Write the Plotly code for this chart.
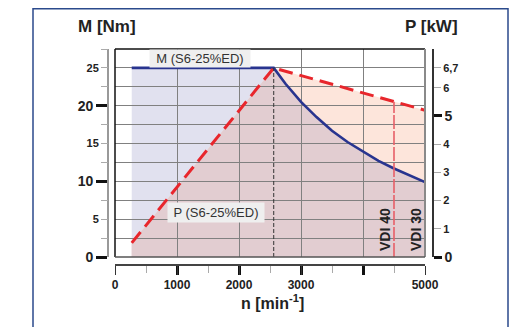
import plotly.graph_objects as go

# ---- data ----
n_M = [270, 2560, 2750, 3000, 3250, 3500, 3750, 4000, 4250, 4500, 4750, 5000]
M_Nm = [25.0, 25.0, 22.9, 20.5, 18.5, 16.7, 15.2, 13.9, 12.7, 11.7, 10.8, 9.9]
n_P = [270, 2560, 5000]
P_kW = [0.5, 6.7, 5.2]
n_corner = 2560
n_vdi40 = 4500
P_vdi40 = 5.5

x_major = [1000, 2000, 3000, 4000]
x_labels = [0, 1000, 2000, 3000, 5000]
yL_big = [0, 10, 20]
yL_small = [5, 15, 25]
yR_big = [0, 5]
yR_small = [1, 2, 3, 4, 6, 6.7]
yR_small_text = ['1', '2', '3', '4', '6', '6,7']

K = 25 / 6.7          # 25 Nm on the left axis aligns with 6.7 kW on the right
Y_MAX = 27.5
X_MAX = 5000

P_on_M = [p * K for p in P_kW]

# ---- pixel helpers for layout (page has an 8px body margin) ----
W, H = 530, 327
OFF = 8
ML, MR, MT, MB = 50, 60, 20, 40
PW = W - ML - MR
PH = H - MT - MB


def px(x):
    return (x - OFF - ML) / PW


def py(y):
    return (H - MB - (y - OFF)) / PH


FONT = 'Liberation Sans, Arial, sans-serif'
LAV = '#e1e1ef'
PEACH = '#fde5db'
MAUVE = '#e2cdd1'


def path_from(xs, ys):
    s = 'M %g,0 ' % xs[0]
    for x, y in zip(xs, ys):
        s += 'L %g,%g ' % (x, y)
    s += 'L %g,0 Z' % xs[-1]
    return s


# overlap polygon: P (below M) before the corner speed, M (below P) after it
i_c = n_M.index(n_corner)
j_c = n_P.index(n_corner)
min_x = n_P[:j_c] + n_M[i_c:]
min_y = P_on_M[:j_c] + M_Nm[i_c:]

fig = go.Figure()

fig.add_trace(go.Scatter(x=n_M, y=M_Nm, mode='lines',
                         line=dict(color='#28348f', width=2.6),
                         hoverinfo='skip', showlegend=False))
fig.add_trace(go.Scatter(x=n_P, y=P_on_M, mode='lines',
                         line=dict(color='#e8262c', width=3, dash='14px,7px'),
                         hoverinfo='skip', showlegend=False))
fig.add_trace(go.Scatter(x=[n_vdi40, n_vdi40], y=[0, P_vdi40 * K], mode='lines',
                         line=dict(color='#e65f68', width=1.6, dash='14px,2px'),
                         hoverinfo='skip', showlegend=False))
fig.add_trace(go.Scatter(x=[n_corner, n_corner], y=[0, 25], mode='lines',
                         line=dict(color='#333333', width=1, dash='4px,2px'),
                         hoverinfo='skip', showlegend=False))

# dummy traces so the extra axes render
for xa, ya in [('x2', 'y'), ('x3', 'y'), ('x', 'y2'), ('x', 'y3'), ('x', 'y4'), ('x', 'y5')]:
    fig.add_trace(go.Scatter(x=[None], y=[None], xaxis=xa, yaxis=ya,
                             showlegend=False, hoverinfo='skip'))

shapes = [
    dict(type='path', xref='x', yref='y', path=path_from(n_M, M_Nm),
         fillcolor=LAV, line=dict(width=0), layer='below'),
    dict(type='path', xref='x', yref='y', path=path_from(n_P, P_on_M),
         fillcolor=PEACH, line=dict(width=0), layer='below'),
    dict(type='path', xref='x', yref='y', path=path_from(min_x, min_y),
         fillcolor=MAUVE, line=dict(width=0), layer='below'),
    # plot borders
    dict(type='line', xref='x domain', yref='y domain', x0=0, x1=1, y0=1, y1=1,
         line=dict(color='#111111', width=1.5)),
    dict(type='line', xref='x domain', yref='y domain', x0=0, x1=0, y0=0, y1=1,
         line=dict(color='#111111', width=1.5)),
    dict(type='line', xref='x domain', yref='y domain', x0=1, x1=1, y0=0, y1=1,
         line=dict(color='#8a8a8a', width=2)),
    dict(type='line', xref='x domain', yref='y domain', x0=0, x1=1, y0=0, y1=0,
         line=dict(color='#555555', width=1.5)),
    # outer frame
    dict(type='rect', xref='paper', yref='paper', x0=px(33), x1=px(508),
         y0=py(345), y1=py(8.8), line=dict(color='#2b4a8c', width=1.5)),
]

tick_big = dict(family=FONT, size=14, color='#222222', weight='bold')
tick_small = dict(family=FONT, size=11, color='#222222', weight='bold')
tick_x = dict(family=FONT, size=12, color='#222222', weight='bold')

fig.update_layout(
    width=W, height=H,
    margin=dict(l=ML, r=MR, t=MT, b=MB, autoexpand=False),
    paper_bgcolor='white', plot_bgcolor='white',
    shapes=shapes,
    showlegend=False,
    xaxis=dict(domain=[px(115), px(425)], range=[0, X_MAX], anchor='y',
               tickvals=x_major, showticklabels=False, ticks='',
               showgrid=True, gridcolor='#808080', gridwidth=1,
               zeroline=False, showline=False, automargin=False),
    yaxis=dict(domain=[py(257), py(49)], range=[0, Y_MAX], anchor='x',
               tickvals=[2.5 * i for i in range(1, 11)], showticklabels=False,
               ticks='', showgrid=True, gridcolor='#808080', gridwidth=1,
               zeroline=False, showline=False, automargin=False),
    xaxis2=dict(overlaying='x', anchor='free', position=py(265),
                range=[0, X_MAX], tickvals=x_major, showticklabels=False,
                ticks='outside', ticklen=9, tickwidth=2.5, tickcolor='#111111',
                showline=True, linecolor='#444444', linewidth=1.5,
                showgrid=False, zeroline=False, automargin=False),
    xaxis3=dict(overlaying='x', anchor='free', position=py(265),
                range=[0, X_MAX], tickvals=x_labels,
                ticks='outside', ticklen=9, tickwidth=1, tickcolor='#333333',
                minor=dict(tick0=500, dtick=1000, ticks='outside', ticklen=7,
                           tickwidth=1, tickcolor='#aaaaaa'),
                showline=False, showgrid=False, zeroline=False,
                tickfont=tick_x, automargin=False),
    yaxis2=dict(overlaying='y', anchor='free', position=px(108), side='left',
                range=[0, Y_MAX], tickvals=yL_big, ticks='outside', ticklen=11,
                tickwidth=2.5, tickcolor='#111111', showline=True,
                linecolor='#999999', linewidth=1.8, showgrid=False,
                zeroline=False, tickfont=tick_big, automargin=False),
    yaxis3=dict(overlaying='y', anchor='free', position=px(108), side='left',
                range=[0, Y_MAX], tickvals=yL_small,
                ticks='outside', ticklen=7, tickwidth=1, tickcolor='#aaaaaa',
                minor=dict(tick0=2.5, dtick=5, ticks='outside', ticklen=7,
                           tickwidth=1, tickcolor='#aaaaaa'),
                showline=False, showgrid=False, zeroline=False,
                tickfont=tick_small, automargin=False),
    yaxis4=dict(overlaying='y', anchor='free', position=px(433), side='right',
                range=[0, Y_MAX / K], tickvals=yR_big, ticks='outside',
                ticklen=8, tickwidth=2.5, tickcolor='#111111', showline=True,
                linecolor='#333333', linewidth=1.5, showgrid=False,
                zeroline=False, tickfont=tick_big, automargin=False),
    yaxis5=dict(overlaying='y', anchor='free', position=px(433), side='right',
                range=[0, Y_MAX / K], tickvals=yR_small, ticktext=yR_small_text,
                ticks='outside', ticklen=7, tickwidth=1, tickcolor='#aaaaaa',
                showline=False, showgrid=False, zeroline=False,
                tickfont=tick_small, automargin=False),
)

ann = [
    dict(text='M [Nm]', x=px(107), y=py(27), font=dict(family=FONT, size=17, color='#222222', weight='bold')),
    dict(text='P [kW]', x=px(431), y=py(27), font=dict(family=FONT, size=17, color='#222222', weight='bold')),
    dict(text='n [min<sup>-1</sup>]', x=px(272), y=py(302), font=dict(family=FONT, size=16, color='#222222', weight='bold')),
    dict(text='M (S6-25%ED)', x=px(200), y=py(58), bgcolor='#efefef', width=98, height=15,
         font=dict(family=FONT, size=13, color='#333333')),
    dict(text='P (S6-25%ED)', x=px(216), y=py(212), bgcolor='#efefef', width=94, height=17,
         font=dict(family=FONT, size=13, color='#333333')),
    dict(text='VDI 40', x=px(385), y=py(230), textangle=-90,
         font=dict(family=FONT, size=14, color='#222222', weight='bold')),
    dict(text='VDI 30', x=px(416), y=py(230), textangle=-90,
         font=dict(family=FONT, size=14, color='#222222', weight='bold')),
]
for a in ann:
    a.update(xref='paper', yref='paper', xanchor='center', yanchor='middle', showarrow=False)
    fig.add_annotation(**a)

fig.write_html('out.html')
